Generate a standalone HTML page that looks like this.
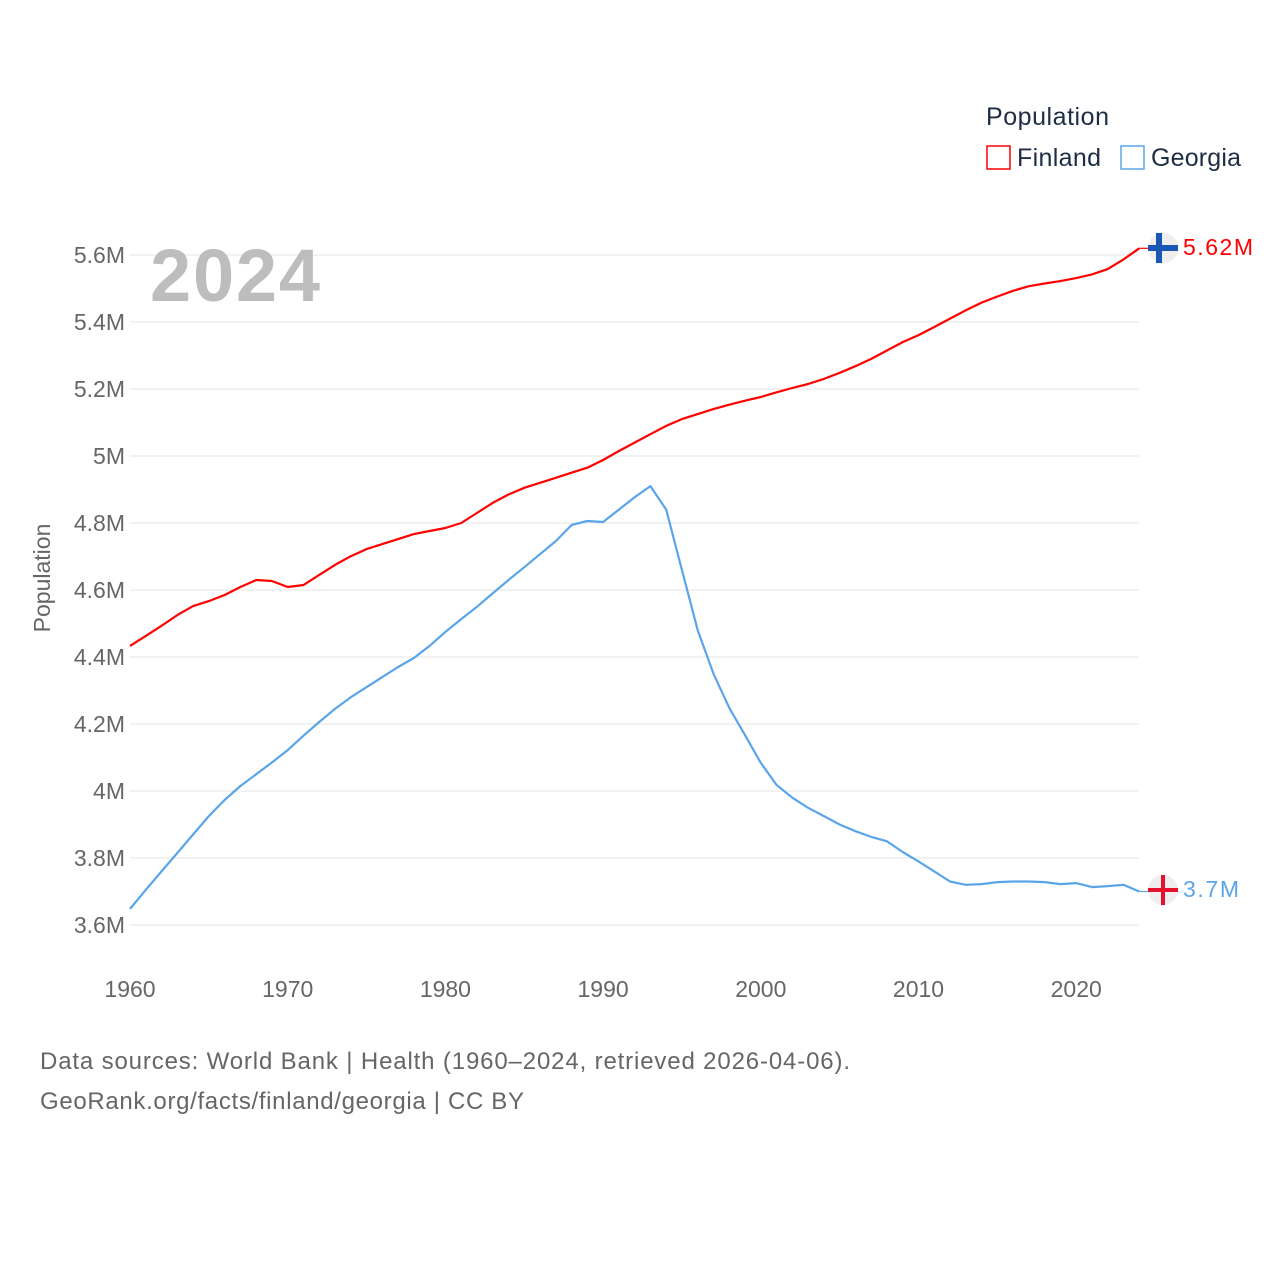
<!DOCTYPE html>
<html><head><meta charset="utf-8"><style>
body{margin:0;background:#fff;font-family:"Liberation Sans",sans-serif}
svg text{font-family:"Liberation Sans",sans-serif}
</style></head><body>
<svg id="chart" width="1280" height="1280" viewBox="0 0 1280 1280">
<g id="grid"></g><g id="yticks"></g><g id="xticks"></g><g id="lines"></g>
<text x="150" y="301" font-size="74" font-weight="bold" fill="#bdbdbd" textLength="170">2024</text>
<text transform="translate(50,578) rotate(-90)" text-anchor="middle" font-size="23" fill="#666">Population</text>
<g>
<text x="986" y="125" font-size="25" fill="#1d2d44" textLength="123">Population</text>
<rect x="987" y="146" width="23" height="23" fill="none" stroke="#f00" stroke-width="1.5"/>
<text x="1017" y="166" font-size="25" fill="#1d2d44" textLength="84">Finland</text>
<rect x="1121" y="146" width="23" height="23" fill="none" stroke="#5aa5ea" stroke-width="1.5"/>
<text x="1151" y="166" font-size="25" fill="#1d2d44" textLength="90">Georgia</text>
</g>
<g>
<circle cx="1163" cy="248" r="15" fill="#eee"/><rect x="1148" y="245" width="30" height="6" fill="#1a56b3"/><rect x="1156" y="233" width="6" height="30" fill="#1a56b3"/>
</g>
<g>
<circle cx="1163" cy="890" r="15" fill="#eee"/><rect x="1148" y="888" width="30" height="4" fill="#e8112d"/><rect x="1161" y="875" width="4" height="30" fill="#e8112d"/>
</g>
<text x="1183" y="255" font-size="23" fill="#f00" textLength="70">5.62M</text>
<text x="1183" y="897" font-size="23" fill="#5aa5ea" textLength="56">3.7M</text>
<text x="40" y="1069" font-size="24" fill="#666" textLength="810">Data sources: World Bank | Health (1960–2024, retrieved 2026-04-06).</text>
<text x="40" y="1109" font-size="24" fill="#666" textLength="484">GeoRank.org/facts/finland/georgia | CC BY</text>
</svg>
<script>
const years=[];for(let y=1960;y<=2024;y++)years.push(y);
const finland=[4.433,4.463,4.493,4.525,4.552,4.567,4.585,4.609,4.630,4.627,4.609,4.615,4.645,4.675,4.701,4.722,4.737,4.752,4.767,4.776,4.785,4.80,4.83,4.86,4.885,4.905,4.92,4.935,4.95,4.965,4.988,5.015,5.04,5.065,5.09,5.11,5.125,5.14,5.153,5.165,5.176,5.19,5.203,5.215,5.23,5.248,5.268,5.29,5.315,5.34,5.361,5.385,5.41,5.435,5.458,5.476,5.493,5.507,5.515,5.522,5.531,5.542,5.558,5.587,5.62];
const georgia=[3.648,3.705,3.76,3.815,3.87,3.925,3.973,4.015,4.05,4.085,4.122,4.165,4.206,4.245,4.28,4.31,4.34,4.37,4.397,4.433,4.475,4.513,4.55,4.59,4.63,4.668,4.707,4.746,4.794,4.806,4.803,4.84,4.877,4.91,4.84,4.66,4.48,4.35,4.248,4.167,4.084,4.018,3.98,3.95,3.925,3.90,3.88,3.863,3.85,3.818,3.79,3.76,3.73,3.72,3.722,3.728,3.73,3.73,3.728,3.722,3.725,3.713,3.716,3.72,3.70];
const yTicks=[3.6,3.8,4,4.2,4.4,4.6,4.8,5,5.2,5.4,5.6];
const yTickLabels=["3.6M","3.8M","4M","4.2M","4.4M","4.6M","4.8M","5M","5.2M","5.4M","5.6M"];
const xTicks=[1960,1970,1980,1990,2000,2010,2020];
const NS="http://www.w3.org/2000/svg";
const X=v=>130+(v-1960)*15.77;
const Y=v=>925-(v-3.6)*335;
function mk(tag,attrs,parent){const e=document.createElementNS(NS,tag);for(const k in attrs)e.setAttribute(k,attrs[k]);document.getElementById(parent).appendChild(e);return e;}
yTicks.forEach((t,i)=>{
 const l=mk('line',{x1:130,x2:1139,y1:Y(t),y2:Y(t),stroke:'#e6e6e6','stroke-width':1},'grid');
 
 
 const tx=mk('text',{x:125,y:Y(t)+8,'text-anchor':'end','font-size':23,fill:'#666'},'yticks');
 tx.textContent=yTickLabels[i];
 
 
});
xTicks.forEach(t=>{
 const tx=mk('text',{x:X(t),y:997,'text-anchor':'middle','font-size':23,fill:'#666'},'xticks');
 tx.textContent=t;
 
 
});
function line(data,color,name){
 const d=data.map((v,i)=>(i?'L':'M')+X(years[i]).toFixed(1)+','+Y(v).toFixed(1)).join('');
 const p=mk('path',{d:d,fill:'none',stroke:color,'stroke-width':2.2,'stroke-linejoin':'round'},'lines');
 
 
 const last=data[data.length-1];
 mk('line',{x1:X(2024),x2:1148,y1:Y(last),y2:Y(last),stroke:color,'stroke-width':1.2},'lines');
}
line(finland,'#f00','finland-line');
line(georgia,'#5aa5ea','georgia-line');
</script>
</body></html>
